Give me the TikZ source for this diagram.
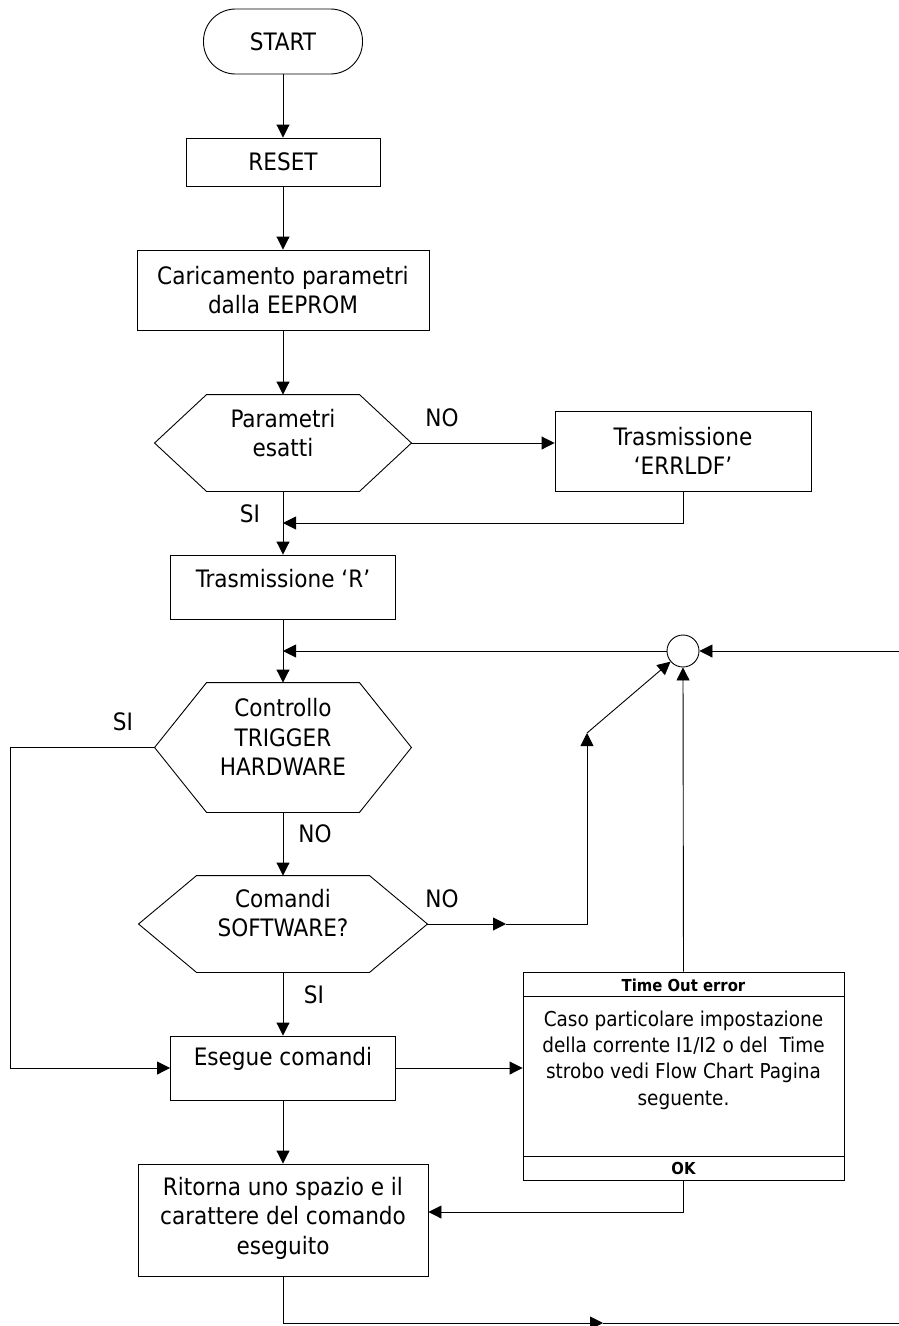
\documentclass[tikz,border=0pt]{standalone}
\usepackage{fontspec}
\setmainfont{DejaVu Sans Condensed}
\usetikzlibrary{arrows.meta}
\newcommand\mainfs{\fontsize{24}{29.5}\selectfont}
\newcommand\bodyfs{\fontsize{20.5}{26.3}\selectfont}
\newcommand\hdrfs{\fontsize{16.5}{20}\selectfont}
\newcommand\hexa[2]{\draw ([xshift=#2]#1.north west) -- ([xshift=-#2]#1.north east) -- (#1.east) -- ([xshift=-#2]#1.south east) -- ([xshift=#2]#1.south west) -- (#1.west) -- cycle;}
\begin{document}
\begin{tikzpicture}[x=1pt,y=-1pt,line width=0.9pt,
  arr/.style={-{Triangle[length=13pt,width=13pt]}},
  box/.style={draw,rectangle,inner sep=0pt,align=center,font=\mainfs},
  shp/.style={rectangle,inner sep=0pt},
  txt/.style={align=center,font=\mainfs,inner sep=0pt},
  lbl/.style={font=\mainfs,inner sep=0pt}]
\fill[white] (0,0) rectangle (899,1326);
\useasboundingbox (0,0) rectangle (899,1326);
% nodes
\node[box,rounded corners=32pt,minimum width=159pt,minimum height=65pt] (start) at (283,41.5) {START};
\node[box,minimum width=194pt,minimum height=48pt] (reset) at (283,162) {RESET};
\node[box,minimum width=292pt,minimum height=80pt] (carica) at (283,290) {Caricamento parametri\\dalla EEPROM};
\node[shp,minimum width=256pt,minimum height=96pt] (param) at (283,443) {};
\hexa{param}{52pt}
\node[txt] (paramt) at (283,433) {Parametri\\esatti};
\node[box,minimum width=256pt,minimum height=80pt] (err) at (683,451) {Trasmissione\\‘ERRLDF’};
\node[box,minimum width=225pt,minimum height=64pt] (trr) at (283,587) {};
\node[txt] (trrt) at (283,579) {Trasmissione ‘R’};
\node[shp,minimum width=256pt,minimum height=129pt] (ctrl) at (283,747.5) {};
\hexa{ctrl}{52pt}
\node[txt] (ctrlt) at (283,737) {Controllo\\TRIGGER\\HARDWARE};
\node[shp,minimum width=288pt,minimum height=96pt] (cmd) at (283,924) {};
\hexa{cmd}{58pt}
\node[txt] (cmdt) at (283,913) {Comandi\\SOFTWARE?};
\node[box,minimum width=225pt,minimum height=64pt] (ese) at (283,1068) {};
\node[txt] (eset) at (283,1059) {Esegue comandi};
\node[box,minimum width=290pt,minimum height=112pt] (rit) at (283,1220) {};
\node[txt] (ritt) at (283,1218) {Ritorna uno spazio e il\\carattere del comando\\eseguito};
\node[draw,circle,minimum size=32pt,inner sep=0pt] (circ) at (683,651) {};
\node[box,minimum width=321pt,minimum height=208pt] (tob) at (683.5,1076) {};
\draw ([yshift=-25pt]tob.north west) -- ([yshift=-25pt]tob.north east);
\draw ([yshift=24pt]tob.south west) -- ([yshift=24pt]tob.south east);
\node[inner sep=0pt,font=\hdrfs\bfseries] (tobh) at (683.5,985) {Time Out error};
\node[txt,font=\bodyfs] (tobb) at (683.5,1060) {Caso particolare impostazione\\della corrente I1/I2 o del\ \ Time\\strobo vedi Flow Chart Pagina\\seguente.};
\node[inner sep=0pt,font=\hdrfs\bfseries] (tobok) at (683.5,1168) {OK};
% labels
\node[lbl] (lno1) at (442,418) {NO};
\node[lbl] (lsi1) at (250,514) {SI};
\node[lbl] (lsi2) at (123,722) {SI};
\node[lbl] (lno2) at (315,834) {NO};
\node[lbl] (lno3) at (442,899) {NO};
\node[lbl] (lsi3) at (314,995) {SI};
% coordinates
\coordinate (merge1) at (283,523);
\coordinate (merge2) at (283,651);
\coordinate (rin) at (899,651);
\coordinate (lft) at (10,747.5);
\coordinate (nomid) at (506,924);
\coordinate (nocorner) at (587,924);
\coordinate (diag) at (587,733);
\coordinate (okret) at (683.5,1212);
\coordinate (bmid) at (603,1323);
\coordinate (bend) at (899,1323);
% connectors
\draw[arr] (start.south) -- (reset.north);
\draw[arr] (reset.south) -- (carica.north);
\draw[arr] (carica.south) -- (param.north);
\draw[arr] (param.east) -- (param.east -| err.west);
\draw[arr] (err.south) |- (merge1);
\draw[arr] (param.south) -- (trr.north);
\draw[arr] (trr.south) -- (ctrl.north);
\draw[arr] (circ.west) -- (merge2);
\draw[arr] (rin) -- (circ.east);
\draw[arr] (ctrl.south) -- (cmd.north);
\draw[arr] (cmd.south) -- (ese.north);
\draw[arr] (ctrl.west) -- (lft) |- (ese.west);
\draw[arr] (cmd.east) -- (nomid);
\draw[arr] (nomid) -- (nocorner) -- (diag);
\draw[arr] (diag) -- (circ);
\draw[arr] (tob.north) -- (circ.south);
\draw[arr] (ese.east) -- (ese.east -| tob.west);
\draw[arr] (ese.south) -- (rit.north);
\draw[arr] (tob.south) |- (rit.east |- okret);
\draw[arr] (rit.south) |- (bmid);
\draw (bmid) -- (bend);
\end{tikzpicture}
\end{document}
